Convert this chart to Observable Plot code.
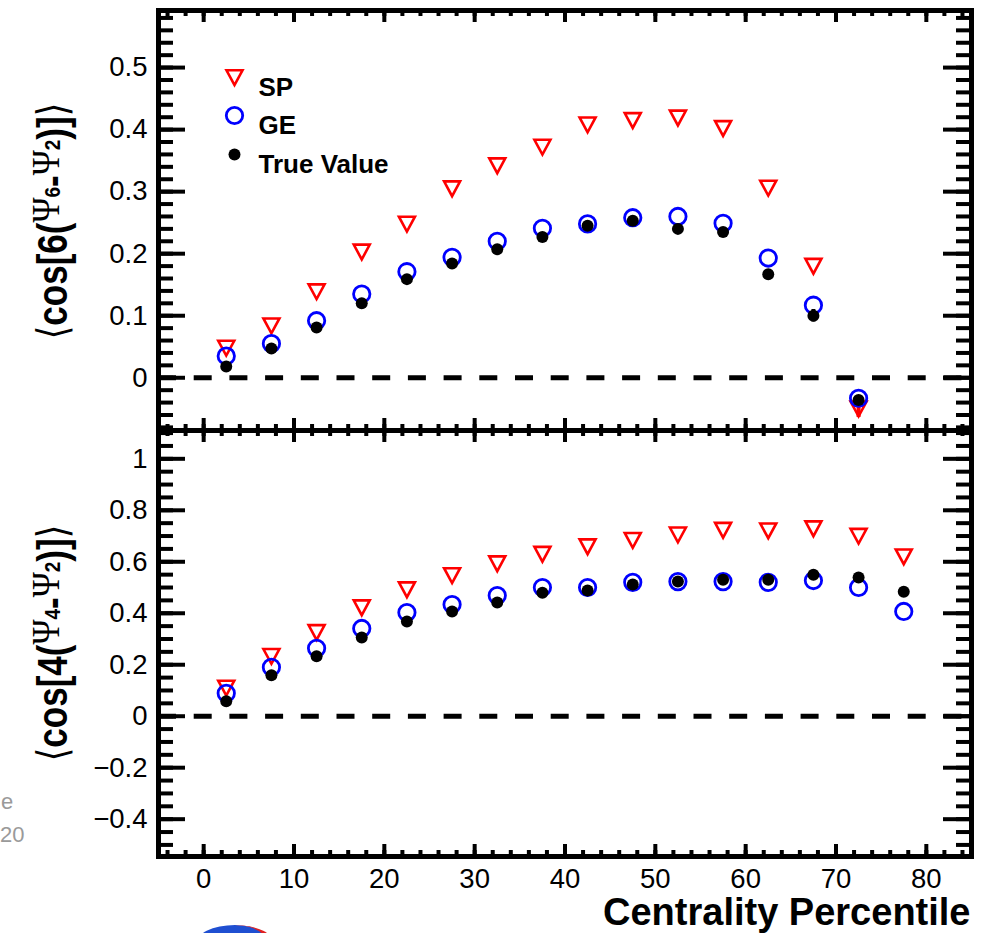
<!DOCTYPE html>
<html><head><meta charset="utf-8">
<script src="https://cdn.jsdelivr.net/npm/d3@7"></script>
<script src="https://cdn.jsdelivr.net/npm/@observablehq/plot@0.6"></script>
<style>
body{margin:0;background:#fff;}
#chart{position:relative;width:983px;height:933px;overflow:hidden;background:#fff;}
#chart svg{position:absolute;left:0;}
.ghost{position:absolute;color:#9a9a9a;font-size:22px;line-height:22px;font-family:"Liberation Sans",Arial,sans-serif;}
.logo{position:absolute;left:195px;top:925px;width:80px;height:40px;border-radius:50%;background:#1f4fd1;border-right:7px solid #e02020;box-sizing:border-box;}
</style></head><body><div id="chart"></div>
<script>
// ---- data ----
const centralityTop = [2.5, 7.5, 12.5, 17.5, 22.5, 27.5, 32.5, 37.5, 42.5, 47.5, 52.5, 57.5, 62.5, 67.5, 72.5];
const spTop   = [0.048, 0.084, 0.139, 0.203, 0.248, 0.305, 0.342, 0.372, 0.408, 0.415, 0.419, 0.402, 0.306, 0.180, -0.050];
const geTop   = [0.035, 0.055, 0.092, 0.135, 0.171, 0.194, 0.220, 0.241, 0.248, 0.258, 0.260, 0.249, 0.193, 0.117, -0.033];
const trueTop = [0.018, 0.047, 0.081, 0.120, 0.159, 0.184, 0.207, 0.227, 0.245, 0.253, 0.240, 0.235, 0.167, 0.100, -0.036];
const spErrTop   = [0, 0, 0, 0, 0, 0, 0, 0, 0, 0, 0, 0, 0, 0, 0.014];
const trueErrTop = [0, 0, 0, 0, 0, 0, 0, 0, 0, 0, 0, 0, 0, 0.010, 0];

const centralityBot = [2.5, 7.5, 12.5, 17.5, 22.5, 27.5, 32.5, 37.5, 42.5, 47.5, 52.5, 57.5, 62.5, 67.5, 72.5, 77.5];
const spBot   = [0.110, 0.233, 0.326, 0.422, 0.492, 0.547, 0.593, 0.630, 0.659, 0.684, 0.705, 0.723, 0.721, 0.729, 0.700, 0.620];
const geBot   = [0.089, 0.190, 0.264, 0.341, 0.403, 0.434, 0.469, 0.500, 0.500, 0.520, 0.523, 0.523, 0.520, 0.527, 0.500, 0.407];
const trueBot = [0.058, 0.159, 0.233, 0.306, 0.368, 0.407, 0.442, 0.480, 0.488, 0.512, 0.523, 0.530, 0.530, 0.550, 0.539, 0.484];

const seriesLabels = ["SP", "GE", "True Value"];
const xTickValues = [0, 10, 20, 30, 40, 50, 60, 70, 80];
const yTopTickValues = [0, 0.1, 0.2, 0.3, 0.4, 0.5];
const yBotTickValues = [-0.4, -0.2, 0, 0.2, 0.4, 0.6, 0.8, 1];
const xTitle = "Centrality Percentile";

// ---- layout / style ----
const FONT = "'Liberation Sans', Arial, Helvetica, sans-serif";
const W = 983, ML = 158, MR = 12;
const PW = W - ML - MR;
const xDomain = [-5, 85];
const yTopDomain = [-0.085, 0.592];
const yBotDomain = [-0.545, 1.11];
const xMinor = d3.range(-4, 85, 2);
const yTopMinor = d3.range(-8, 59, 2).map(v => v / 100);
const yBotMinor = d3.range(-10, 23, 1).map(v => v / 20);
const fmtY = d => d === 0 ? "0" : d3.format("~g")(d);

const triDown = {draw(ctx, size) {
  const r = Math.sqrt(size / Math.PI);
  ctx.moveTo(-r, -0.9 * r); ctx.lineTo(r, -0.9 * r); ctx.lineTo(0, 0.95 * r); ctx.closePath();
}};

function rows(c, sp, ge, tv, spE, tvE) {
  return c.map((x, i) => ({c: x, sp: sp[i], ge: ge[i], tv: tv[i], spE: spE ? spE[i] : 0, tvE: tvE ? tvE[i] : 0}));
}
const topRows = rows(centralityTop, spTop, geTop, trueTop, spErrTop, trueErrTop);
const botRows = rows(centralityBot, spBot, geBot, trueBot);

function frameTicks(ph, yMajor, yMinor) {
  return [
    Plot.tickY(yMinor, {insetRight: PW - 15, strokeWidth: 4}),
    Plot.tickY(yMajor, {insetRight: PW - 27, strokeWidth: 4}),
    Plot.tickY(yMinor, {insetLeft: PW - 15, strokeWidth: 4}),
    Plot.tickY(yMajor, {insetLeft: PW - 28, strokeWidth: 4}),
    Plot.tickX(xMinor, {insetBottom: ph - 6, strokeWidth: 4}),
    Plot.tickX(xTickValues, {insetBottom: ph - 12, strokeWidth: 4}),
    Plot.tickX(xMinor, {insetTop: ph - 6, strokeWidth: 4}),
    Plot.tickX(xTickValues, {insetTop: ph - 12, strokeWidth: 4})
  ];
}
function dataMarks(data) {
  return [
    Plot.ruleY([0], {strokeDasharray: "18,17.7", strokeWidth: 5}),
    Plot.ruleX(data.filter(d => d.spE > 0), {x: "c", y1: d => d.sp - d.spE, y2: d => d.sp + d.spE, stroke: "#ff0000", strokeWidth: 4}),
    Plot.dot(data, {x: "c", y: "sp", symbol: triDown, r: 8, stroke: "#ff0000", strokeWidth: 2.6, fill: "none"}),
    Plot.dot(data, {x: "c", y: "ge", r: 8.2, stroke: "#0000ff", strokeWidth: 2.8, fill: "none"}),
    Plot.ruleX(data.filter(d => d.tvE > 0), {x: "c", y1: d => d.tv - d.tvE, y2: d => d.tv + d.tvE, stroke: "black", strokeWidth: 4}),
    Plot.dot(data, {x: "c", y: "tv", r: 6, fill: "black"})
  ];
}

const topH = 440, topMT = 10, topMB = 10;
const topPlot = Plot.plot({
  width: W, height: topH, marginLeft: ML, marginRight: MR, marginTop: topMT, marginBottom: topMB,
  style: {fontFamily: FONT, background: "transparent", overflow: "visible"},
  x: {domain: xDomain, axis: null},
  y: {domain: yTopDomain},
  marks: [
    ...dataMarks(topRows),
    ...frameTicks(topH - topMT - topMB, yTopTickValues, yTopMinor),
    Plot.frame({strokeWidth: 5, stroke: "black"}),
    Plot.axisY({ticks: yTopTickValues, tickSize: 0, tickPadding: 11, tickFormat: fmtY, fontSize: 27.5, label: null}),
    // legend
    Plot.dot([seriesLabels[0]], {frameAnchor: "top-left", dx: 76, dy: 67, symbol: triDown, r: 8, stroke: "#ff0000", strokeWidth: 2.6, fill: "none"}),
    Plot.dot([seriesLabels[1]], {frameAnchor: "top-left", dx: 76, dy: 105, r: 8.2, stroke: "#0000ff", strokeWidth: 2.8, fill: "none"}),
    Plot.dot([seriesLabels[2]], {frameAnchor: "top-left", dx: 76, dy: 144, r: 6, fill: "black"}),
    Plot.text([seriesLabels[0]], {text: d => d, frameAnchor: "top-left", dx: 100, dy: 67, textAnchor: "start", fontSize: 26, fontWeight: "bold"}),
    Plot.text([seriesLabels[1]], {text: d => d, frameAnchor: "top-left", dx: 100, dy: 105, textAnchor: "start", fontSize: 26, fontWeight: "bold"}),
    Plot.text([seriesLabels[2]], {text: d => d, frameAnchor: "top-left", dx: 100, dy: 144, textAnchor: "start", fontSize: 26, fontWeight: "bold"})
  ]
});

const botTop = 420, botH = 513, botMT = 10, botMB = 77;
const botPlot = Plot.plot({
  width: W, height: botH, marginLeft: ML, marginRight: MR, marginTop: botMT, marginBottom: botMB,
  style: {fontFamily: FONT, background: "transparent", overflow: "visible"},
  x: {domain: xDomain},
  y: {domain: yBotDomain},
  marks: [
    ...dataMarks(botRows),
    ...frameTicks(botH - botMT - botMB, yBotTickValues, yBotMinor),
    Plot.frame({strokeWidth: 5, stroke: "black"}),
    Plot.axisY({ticks: yBotTickValues, tickSize: 0, tickPadding: 11, tickFormat: fmtY, fontSize: 27.5, label: null}),
    Plot.axisX({ticks: xTickValues, tickSize: 0, tickPadding: 12, tickFormat: d3.format("d"), fontSize: 27.5, label: null}),
    Plot.text([xTitle], {text: d => d, frameAnchor: "bottom-right", dx: -1, dy: 68, textAnchor: "end", lineAnchor: "bottom", fontSize: 38, fontWeight: "bold", letterSpacing: "0.5px"})
  ]
});

const chart = document.getElementById("chart");
topPlot.style.top = "0px";
botPlot.style.top = botTop + "px";
chart.appendChild(topPlot);
chart.appendChild(botPlot);

// y-axis titles: ⟨cos[n(Ψ_n-Ψ_2)]⟩
function yTitle(svg, cx, cy, n) {
  const t = d3.select(svg).append("text")
    .attr("transform", `translate(${cx},${cy}) rotate(-90) scale(1,1.2)`)
    .attr("text-anchor", "middle")
    .attr("font-family", FONT).attr("font-size", 35).attr("font-weight", "bold").attr("fill", "black");
  t.append("tspan").attr("font-family", "'DejaVu Sans'").attr("font-weight", "normal").text("\u27E8");
  t.append("tspan").text(`cos[${n}(`);
  t.append("tspan").attr("font-family", "'Liberation Serif', serif").attr("font-weight", "normal").attr("font-size", 34).attr("dy", -7).text("\u03A8");
  t.append("tspan").attr("font-size", 19).attr("dy", 1).text(String(n));
  t.append("tspan").attr("dy", 6).text("-");
  t.append("tspan").attr("font-family", "'Liberation Serif', serif").attr("font-weight", "normal").attr("font-size", 34).attr("dy", -7).text("\u03A8");
  t.append("tspan").attr("font-size", 19).attr("dy", 1).text("2");
  t.append("tspan").attr("dy", 6).text(")]");
  t.append("tspan").attr("font-family", "'DejaVu Sans'").attr("font-weight", "normal").text("\u27E9");
}
yTitle(topPlot, 67, 221, 6);
yTitle(botPlot, 67, 643 - botTop, 4);

// faint cropped fragments at the left and bottom edges
const g1 = document.createElement("div"); g1.className = "ghost"; g1.style.left = "1px"; g1.style.top = "791px"; g1.textContent = "e"; chart.appendChild(g1);
const g2 = document.createElement("div"); g2.className = "ghost"; g2.style.left = "0px"; g2.style.top = "824px"; g2.textContent = "20"; chart.appendChild(g2);
const lg = document.createElement("div"); lg.className = "logo"; chart.appendChild(lg);
</script></body></html>
